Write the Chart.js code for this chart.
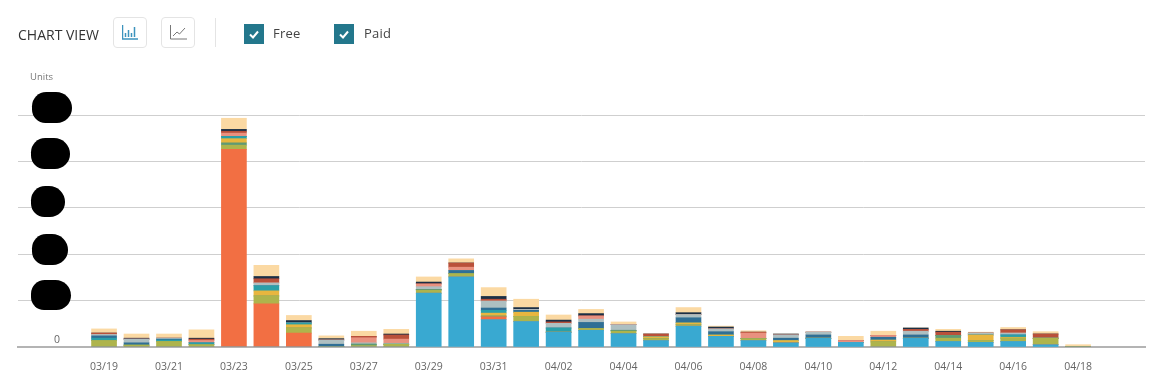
<!DOCTYPE html>
<html>
<head>
<meta charset="utf-8">
<title>Chart view</title>
<script src="https://cdn.jsdelivr.net/npm/chart.js@4"></script>
<style>
  html, body { margin: 0; padding: 0; background: #fff; }
  body { width: 1168px; height: 374px; position: relative; overflow: hidden; font-family: "Open Sans", sans-serif; }
  canvas { position: absolute; left: 0; top: 0; }
  .abs { position: absolute; }
  .title { left: 18px; top: 25px; font-size: 14px; line-height: 20px; color: #333; }
  .btn { top: 17px; width: 32px; height: 29px; border: 1px solid #e4e4e4; border-radius: 4px; }
  .btn svg { display: block; margin: 6px auto 0; }
  .divider { left: 215px; top: 18px; width: 1px; height: 29px; background: #e4e4e4; }
  .check { top: 24px; width: 20px; height: 20px; background: #23778c; }
  .check svg { display: block; }
  .lbl { top: 24px; font-size: 13px; line-height: 19px; letter-spacing: .2px; color: #444; }
  .units { left: 30px; top: 70px; font-size: 9.5px; line-height: 13px; color: #777; }
  .blob { background: #000; border-radius: 17px 19px 18px 16px; z-index: 2; }
</style>
</head>
<body>
<canvas id="unitsChart" width="1168" height="374"></canvas>

<div class="abs title">CHART VIEW</div>
<div class="abs btn" style="left:113px">
  <svg width="16" height="16" viewBox="0 0 16 16" fill="none" stroke="#3c93bd" stroke-width="1.5">
    <path d="M.5 1v14H16M3.5 13V9M6.5 13V6M9.5 13V9M12.5 13V3"/>
  </svg>
</div>
<div class="abs btn" style="left:161px">
  <svg width="17" height="16" viewBox="0 0 17 16" fill="none" stroke="#777" stroke-width="1">
    <path d="M.5 1v14H17M3 12l4-4 2.5 2L15 4"/>
  </svg>
</div>
<div class="abs divider"></div>
<div class="abs check" style="left:244px"><svg width="20" height="20" fill="none" stroke="#fff" stroke-width="2"><path d="M6 10.5l3 3 5-6"/></svg></div>
<div class="abs lbl" style="left:273px">Free</div>
<div class="abs check" style="left:334px"><svg width="20" height="20" fill="none" stroke="#fff" stroke-width="2"><path d="M6 10.5l3 3 5-6"/></svg></div>
<div class="abs lbl" style="left:364px">Paid</div>
<div class="abs units">Units</div>

<!-- redacted y axis labels -->
<div class="abs blob" style="left:32px;top:92px;width:40px;height:31px"></div>
<div class="abs blob" style="left:31px;top:138px;width:39px;height:31px"></div>
<div class="abs blob" style="left:31px;top:186px;width:34px;height:31px"></div>
<div class="abs blob" style="left:32px;top:234px;width:36px;height:31px"></div>
<div class="abs blob" style="left:31px;top:280px;width:40px;height:30px"></div>

<script>
const dates = ['03/19','03/20','03/21','03/22','03/23','03/24','03/25','03/26','03/27','03/28','03/29','03/30','03/31',
  '04/01','04/02','04/03','04/04','04/05','04/06','04/07','04/08','04/09','04/10','04/11','04/12','04/13','04/14','04/15','04/16','04/17','04/18'];
const yTickLabels = ['0','','','','',''];

// values, 31 days, bottom of the stack first
const blue   = [0,0,0,0,0,0,0,0,0,0,116,151,59,55,32,36,29,14,45,23,14,9,19,10,0,19,12,10,12,5,0];
const orange = [0,0,0,0,426,93,30,0,0,0,0,0,6,0,0,0,0,0,0,0,0,0,0,0,0,0,0,0,0,0,0];
const olive  = [14,4,12,5,9,17,11,0,3,6,6,7,0,11,0,4,5,4,3,0,4,0,0,0,11,0,7,4,7,14,1];
const green  = [0,0,0,0,5,0,0,0,3,0,2,0,2,0,0,0,2,0,0,0,0,0,0,0,0,0,6,0,0,0,0];
const yellow = [0,0,0,0,9,11,7,0,0,0,0,0,6,9,0,0,0,4,4,3,0,5,0,0,4,0,0,12,2,0,0];
const teal   = [5,0,3,4,5,11,4,0,0,0,0,0,6,0,9,0,0,0,0,0,0,0,0,0,0,0,0,0,5,0,0];
const steel  = [5,5,2,0,0,0,0,6,0,0,0,7,5,4,0,13,0,0,11,7,0,5,7,0,6,7,0,0,0,0,0];
const grey   = [3,8,2,0,0,6,0,9,3,2,6,0,15,2,10,7,12,0,7,6,0,7,6,0,0,8,0,4,4,0,0];
const salmon = [0,0,0,5,7,0,0,0,11,9,6,7,0,0,0,7,0,0,0,0,12,0,0,4,4,0,0,0,0,0,0];
const red    = [3,0,0,3,4,9,0,0,3,9,0,9,4,0,3,0,0,6,0,0,2,0,0,0,0,4,7,0,7,9,0];
const navy   = [0,2,0,2,4,5,5,3,0,2,4,0,6,4,4,5,0,0,4,4,0,2,0,0,0,3,2,0,0,0,0];
const peach  = [9,9,9,18,24,24,11,6,11,10,11,9,19,18,11,9,6,0,11,2,3,0,0,9,9,0,4,2,5,5,4];

const seriesList = [blue, orange, olive, green, yellow, teal, steel, grey, salmon, red, navy, peach];
const seriesColors = ['#39a9d1','#f26f43','#aeb44c','#5f9a74','#e8b63f','#2a9fa8','#2f6f95','#aebfc1','#e9917f','#b9503a','#1c2f45','#fbd9a3'];

new Chart(document.getElementById('unitsChart'), {
  type: 'bar',
  data: {
    datasets: seriesList.map((values, s) => ({
      data: values.map((v, i) => ({ x: i, y: v })),
      backgroundColor: seriesColors[s],
      borderWidth: 0,
      barThickness: 25
    }))
  },
  options: {
    responsive: false,
    animation: false,
    layout: { padding: { left: 18, right: 23, top: 115, bottom: 0 } },
    plugins: { legend: { display: false }, title: { display: false } },
    scales: {
      x: {
        type: 'linear',
        stacked: true,
        offset: false,
        min: -2.65,
        max: 32.06,
        grid: { display: false, offset: false },
        border: { color: '#b4b4b4', width: 2 },
        afterFit: scale => { scale.height = 27; scale.paddingLeft = 0; scale.paddingRight = 0; },
        ticks: {
          stepSize: 2,
          autoSkip: false,
          maxRotation: 0,
          padding: 6,
          color: '#666',
          font: { family: '"Open Sans"', size: 10.5 },
          callback: v => dates[v] || ''
        }
      },
      y: {
        stacked: true,
        min: 0,
        max: 500,
        grid: { color: '#cfcfcf', lineWidth: 1, drawTicks: false },
        border: { display: false },
        afterFit: scale => { scale.width = 0; scale.paddingTop = 0; scale.paddingBottom = 0; },
        ticks: {
          stepSize: 100,
          mirror: true,
          padding: 36,
          labelOffset: -7,
          color: '#666',
          font: { family: '"Open Sans"', size: 10.5 },
          callback: v => yTickLabels[v / 100]
        }
      }
    }
  }
});
</script>
</body>
</html>
